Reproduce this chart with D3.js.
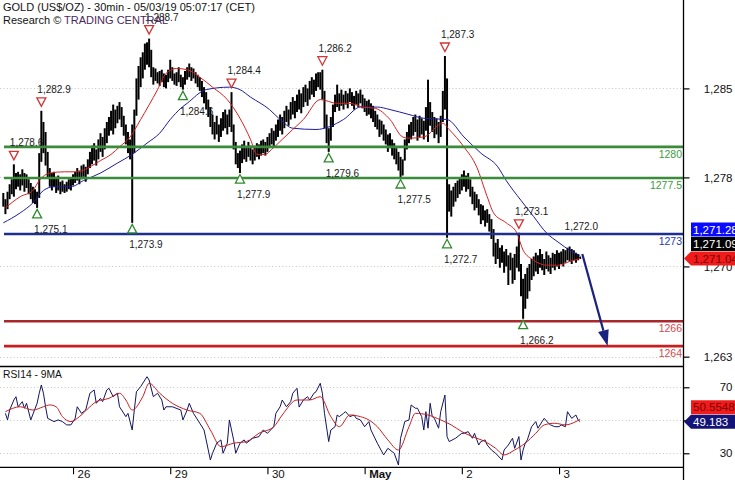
<!DOCTYPE html>
<html><head><meta charset="utf-8">
<script src="https://cdn.jsdelivr.net/npm/d3@7"></script>
<style>body{margin:0;background:#fff}svg{display:block;font-family:"Liberation Sans",Arial,sans-serif}</style>
</head><body><svg id="c" width="735" height="480"></svg>
<script>
// ---------- DATA ----------
const titleLine1 = "GOLD (US$/OZ) - 30min - 05/03/19 05:07:17 (CET)";
const titleLine2a = "Research © ";
const titleLine2b = "TRADING CENTRAL";
const rsiTitle = "RSI14 - 9MA";

// 30-minute bars: lows / highs (bar index 0..273)
const barLow = [
1275.2,1274.6,1275.0,1275.8,1276.2,1276.0,1276.6,1276.8,1276.5,1276.9,
1276.4,1276.7,1276.2,1275.8,1275.5,1275.4,1275.1,1275.9,1278.8,1279.5,
1278.5,1277.5,1276.8,1276.5,1276.8,1276.3,1276.5,1276.2,1276.4,1276.3,
1276.4,1276.6,1276.5,1276.9,1277.1,1277.3,1277.0,1277.4,1277.6,1277.2,
1277.8,1278.3,1278.6,1278.9,1278.5,1279.0,1279.6,1279.2,1279.8,1280.3,
1280.9,1281.3,1281.0,1281.5,1281.9,1282.2,1281.6,1280.9,1280.2,1279.5,
1279.0,1273.9,1279.5,1282.5,1283.8,1284.8,1285.5,1286.2,1286.6,1286.4,
1285.6,1285.0,1285.3,1285.1,1284.9,1285.2,1284.8,1284.7,1285.2,1285.5,
1285.3,1285.0,1284.9,1285.2,1284.8,1284.6,1285.0,1285.4,1285.6,1285.3,
1285.5,1285.1,1284.8,1284.5,1284.0,1283.5,1283.0,1282.4,1281.6,1281.0,
1280.6,1281.0,1280.4,1280.8,1281.3,1281.5,1281.0,1281.6,1281.2,1279.8,
1278.6,1278.3,1277.9,1278.7,1279.0,1278.8,1279.2,1278.9,1278.6,1278.9,
1279.2,1279.0,1279.3,1279.5,1279.3,1279.6,1279.9,1280.2,1280.0,1280.5,
1280.8,1281.3,1281.0,1281.5,1282.0,1281.7,1282.2,1282.6,1282.3,1282.8,
1283.0,1282.7,1283.2,1283.6,1283.3,1283.8,1284.2,1284.0,1284.5,1284.8,
1284.6,1283.8,1281.5,1280.3,1279.6,1280.5,1281.6,1282.8,1283.2,1282.9,
1283.3,1283.0,1283.4,1283.1,1283.6,1283.3,1283.0,1283.4,1283.2,1283.5,
1283.1,1282.8,1282.5,1282.6,1282.3,1282.0,1281.6,1281.4,1280.8,1281.0,
1280.5,1280.2,1279.6,1279.9,1279.3,1279.0,1278.6,1278.1,1277.5,1277.7,
1278.9,1279.8,1280.3,1280.6,1280.9,1281.2,1280.5,1280.8,1281.0,1280.6,
1281.3,1280.4,1281.7,1281.2,1280.7,1281.0,1280.3,1280.8,1282.0,1283.0,
1272.7,1274.8,1274.4,1275.2,1275.6,1275.9,1276.2,1276.5,1276.8,1276.4,
1276.6,1276.0,1275.4,1274.9,1275.1,1274.5,1273.8,1274.1,1273.6,1273.9,
1273.2,1272.6,1271.2,1270.6,1271.0,1270.3,1270.7,1269.9,1270.4,1268.9,
1270.1,1269.0,1269.3,1270.3,1270.0,1268.0,1266.2,1267.0,1267.8,1268.4,
1269.3,1269.6,1270.0,1269.8,1270.3,1270.1,1269.7,1270.2,1270.0,1269.8,
1270.3,1270.1,1270.4,1270.2,1270.6,1270.4,1270.7,1270.9,1270.8,1270.6,
1270.9,1270.7,1270.9,1271.0];
const barHigh = [
1276.3,1275.8,1276.4,1277.0,1277.4,1278.6,1277.9,1278.0,1277.8,1278.2,
1277.9,1277.8,1277.4,1277.1,1276.8,1276.6,1276.4,1279.5,1282.9,1282.0,
1281.2,1279.6,1278.3,1277.9,1278.0,1277.6,1277.7,1277.2,1277.3,1277.0,
1277.2,1277.4,1277.5,1277.8,1278.0,1278.3,1278.1,1278.5,1278.6,1278.4,
1279.0,1279.6,1280.1,1280.3,1279.8,1280.6,1281.1,1280.8,1281.5,1282.0,
1282.4,1282.9,1283.4,1283.0,1283.3,1283.6,1283.2,1282.5,1281.8,1281.2,
1280.6,1281.8,1283.0,1285.5,1286.5,1287.2,1287.6,1288.3,1288.4,1288.7,
1287.8,1286.4,1286.3,1286.0,1286.1,1286.2,1285.9,1285.8,1286.2,1287.0,
1286.4,1285.9,1286.0,1286.4,1285.8,1285.6,1286.1,1286.4,1286.7,1286.4,
1286.3,1286.0,1285.8,1285.6,1285.3,1284.8,1284.4,1283.8,1283.2,1282.6,
1282.0,1282.5,1281.8,1282.3,1282.8,1283.0,1282.6,1283.0,1284.4,1281.8,
1280.4,1279.5,1279.7,1280.2,1280.5,1280.0,1280.4,1280.1,1279.8,1280.1,
1280.3,1280.2,1280.5,1280.6,1280.4,1280.8,1281.1,1281.5,1281.3,1281.8,
1282.2,1282.6,1282.4,1282.9,1283.3,1283.0,1283.6,1284.0,1283.7,1284.2,
1284.6,1284.3,1284.8,1285.0,1284.7,1285.3,1285.6,1285.4,1285.9,1286.0,
1286.0,1286.2,1284.5,1282.6,1281.5,1282.4,1283.4,1284.2,1285.0,1284.3,
1284.6,1284.2,1284.5,1284.3,1284.7,1284.4,1284.1,1284.5,1284.3,1284.6,
1284.2,1283.9,1283.7,1283.8,1283.5,1283.3,1282.9,1282.6,1282.2,1282.1,
1281.8,1281.4,1281.0,1281.1,1280.6,1280.3,1279.9,1279.6,1279.2,1279.0,
1280.6,1281.2,1281.8,1282.0,1282.4,1282.6,1282.2,1282.5,1282.3,1282.1,
1283.2,1285.4,1283.6,1282.8,1282.4,1282.3,1282.0,1282.5,1284.5,1287.3,
1285.5,1277.0,1276.5,1276.8,1277.1,1277.3,1277.5,1277.8,1278.1,1277.7,
1277.9,1277.4,1276.8,1276.4,1276.2,1275.8,1275.4,1275.3,1274.9,1275.0,
1274.6,1274.2,1273.4,1272.3,1272.6,1271.9,1272.1,1271.6,1271.8,1271.3,
1271.5,1271.1,1271.4,1272.0,1273.1,1270.6,1269.4,1269.8,1270.3,1270.6,
1271.0,1271.2,1271.5,1271.3,1271.8,1271.4,1271.0,1271.6,1271.3,1271.1,
1271.5,1271.4,1271.7,1271.5,1271.6,1271.8,1271.7,1271.9,1272.0,1271.8,
1271.7,1271.5,1271.4,1271.2];

// moving averages (bar index, price)
const maRedIdx = [1,8,14,17,22,29,35,41,46,51,55,60,65,73,77,82,87,93,99,106,112,117,120,124,127,132,137,142,150,158,164,170,176,183,189,192,199,208,211,218,224,229,232,238,243,246,251,257,263,268,273];
const maRedVal = [1275.1,1276.0,1276.5,1277.3,1277.9,1278.0,1278.0,1278.4,1278.9,1279.4,1280.0,1280.8,1282.2,1284.6,1285.9,1286.3,1286.2,1285.6,1284.8,1283.8,1282.3,1280.6,1279.4,1279.4,1279.8,1280.6,1281.4,1282.2,1283.8,1283.5,1283.5,1283.2,1283.1,1282.2,1280.8,1280.7,1280.8,1281.9,1281.4,1280.0,1278.4,1276.0,1274.7,1273.9,1273.1,1271.7,1270.9,1270.5,1270.5,1270.8,1271.04];
const maBlueIdx = [0,8,14,19,24,32,38,46,54,61,68,74,79,84,87,96,107,112,117,126,131,137,148,161,169,177,183,192,199,210,218,226,234,238,245,251,257,263,268,273];
const maBlueVal = [1273.9,1274.7,1275.5,1276.5,1276.8,1276.8,1277.3,1277.9,1278.7,1279.4,1280.3,1281.1,1282.2,1283.1,1283.5,1284.6,1284.8,1284.6,1284.0,1283.0,1282.2,1281.5,1281.4,1282.2,1283.2,1283.2,1283.0,1282.6,1282.3,1282.2,1280.8,1279.5,1278.4,1277.3,1275.7,1274.4,1273.1,1272.3,1271.7,1271.28];
const lastClose = 1271.09;

// swing highs / lows
const swingHighIdx = [5,18,69,108,151,209,244];
const swingHighVal = [1278.6,1282.9,1288.7,1284.4,1286.2,1287.3,1273.1];
const plainHighIdx = [268];
const plainHighVal = [1272.0];
const swingLowIdx = [16,61,85,112,154,188,210,246];
const swingLowVal = [1275.1,1273.9,1284.6,1277.9,1279.6,1277.5,1272.7,1266.2];

// support / resistance levels
const levelVals = [1280,1277.5,1273,1266,1264];
const levelLabels = ["1280","1277.5","1273","1266","1264"];
const levelKinds = ["res","res","pivot","sup1","sup2"];

// projection arrow (bar index, price)
const projIdx = [274,286];
const projVal = [1271.4,1264.0];

// axes
const priceTicks = [1284.7,1277.55,1270.4,1263.15];
const rsiTicks = [70,50,30];
const rsiTickLabels = ["70","","30"];
const dayIdx = [33,79,125,171,217,263];
const dayLabels = ["26","29","30","May","2","3"];

// RSI(14) and its 9MA (bar index, value)
const rsiIdx = [1,2,3,5,6,7,9,10,11,13,16,17,18,19,20,21,24,26,28,30,32,34,35,37,39,41,43,44,46,47,49,50,52,54,55,58,59,61,62,63,65,68,69,71,73,75,76,77,80,84,85,87,88,90,93,95,96,98,99,101,103,104,106,107,109,110,112,114,115,118,121,123,125,128,129,131,132,134,136,137,139,140,142,144,145,147,148,150,151,152,154,155,157,158,159,161,162,164,166,167,169,171,173,174,177,180,182,185,187,188,190,192,193,195,196,198,199,200,201,202,203,204,206,207,209,210,211,214,217,218,220,222,223,225,226,228,229,231,233,236,237,239,241,242,244,245,246,247,248,250,252,253,255,256,258,259,261,263,264,266,267,269,271,272,273];
const rsiVal = [54.2,50.2,56.2,62.3,64.3,58.2,61.3,57.3,60.3,50.2,60.3,66.4,71.4,66.4,58.2,51.2,49.2,50.2,49.2,47.2,47.2,51.2,58.2,54.2,56.2,66.4,68.4,60.3,63.3,61.3,68.4,69.4,64.3,66.4,58.2,52.2,54.2,44.1,56.2,67.3,70.4,76.4,74.4,64.3,66.4,62.3,56.2,58.2,58.2,56.2,50.2,56.2,60.3,54.2,48.2,44.1,38.1,25.9,30.0,36.1,38.1,30.0,36.1,50.2,38.1,30.0,36.1,38.1,36.1,39.1,40.1,44.1,42.1,46.1,54.2,58.2,62.3,58.2,61.3,66.4,69.4,58.0,62.3,64.3,62.3,66.4,67.3,72.4,66.4,54.2,37.1,44.1,46.1,53.2,52.2,54.2,55.2,52.2,53.2,51.2,50.2,46.1,49.2,44.1,36.1,29.0,33.0,30.0,22.9,39.1,49.2,50.2,59.3,57.3,57.3,52.2,44.1,55.2,45.2,60.3,52.2,51.2,45.2,55.2,65.3,40.1,37.1,39.1,42.1,42.1,43.1,39.1,42.1,35.0,37.1,38.1,35.0,32.0,30.0,25.9,32.0,35.0,39.1,33.0,40.1,25.9,32.0,36.1,38.1,46.1,49.2,45.2,49.2,51.2,48.2,47.2,46.1,46.1,47.2,46.1,55.2,51.2,53.2,50.2,49.183];
const rsiMaIdx = [1,8,14,19,22,25,28,32,36,41,44,50,55,58,61,66,69,74,80,87,93,98,103,109,115,121,128,132,139,145,150,155,159,164,169,173,177,182,187,192,195,201,207,212,217,222,228,233,237,242,247,252,256,261,266,271,273];
const rsiMaVal = [55.2,58.2,56.2,58.2,59.3,58.2,52.2,49.2,52.2,58.2,61.3,63.3,66.4,62.3,56.2,64.3,72.4,66.4,60.3,56.2,54.2,44.1,34.0,36.1,37.1,42.1,46.1,53.2,62.3,62.3,64.3,52.2,46.1,53.2,52.2,50.2,46.1,38.1,32.0,46.1,54.2,53.2,50.2,47.2,43.1,40.1,37.1,33.0,29.0,32.0,36.1,42.1,47.2,48.2,47.2,49.2,50.5548];

// ---------- CHART ----------
const W = 735, H = 480, axisX = 683.5;
const mainTop = 0, mainBottom = 366.5, rsiBottom = 467.3;
const svg = d3.select("#c");

const x = d3.scaleLinear().domain([0, 321]).range([3.3, 681.6]);
const y = d3.scaleLinear().domain([1262.36, 1291.8]).range([mainBottom, mainTop]);
const yr = d3.scaleLinear().domain([21.5, 82.6]).range([rsiBottom, mainBottom]);

svg.append("defs").append("clipPath").attr("id","clipMain")
  .append("rect").attr("x",0).attr("y",0).attr("width",axisX).attr("height",mainBottom);
svg.select("defs").append("clipPath").attr("id","clipRsi")
  .append("rect").attr("x",0).attr("y",mainBottom).attr("width",axisX).attr("height",rsiBottom-mainBottom);

// dotted grid
const grid = svg.append("g").attr("stroke","#c4c4c4").attr("stroke-dasharray","1,2.4").attr("stroke-width",1);
priceTicks.forEach(v => grid.append("line").attr("x1",0).attr("x2",axisX).attr("y1",Math.round(y(v))+0.5).attr("y2",Math.round(y(v))+0.5));
rsiTicks.forEach(v => grid.append("line").attr("x1",0).attr("x2",axisX).attr("y1",Math.round(yr(v))+0.5).attr("y2",Math.round(yr(v))+0.5));

// main panel
const main = svg.append("g").attr("clip-path","url(#clipMain)");

// price bars
main.append("g").selectAll("line").data(barHigh).join("line")
  .attr("x1",(d,i)=>x(i)).attr("x2",(d,i)=>x(i))
  .attr("y1",d=>y(d)).attr("y2",(d,i)=>Math.max(y(barLow[i]), y(d)+1))
  .attr("stroke","#000").attr("stroke-width",2.0);

// moving averages
const maLine = d3.line().x(d=>x(d[0])).y(d=>y(d[1])).curve(d3.curveMonotoneX);
main.append("path").attr("d",maLine(d3.zip(maBlueIdx,maBlueVal))).attr("fill","none").attr("stroke","#1c1c9c").attr("stroke-width",1);
main.append("path").attr("d",maLine(d3.zip(maRedIdx,maRedVal))).attr("fill","none").attr("stroke","#d42020").attr("stroke-width",1);

// levels
const levelStyle = {res:{line:"#3a8c3a",text:"#3f9a3f"}, pivot:{line:"#1e2f8e",text:"#2a3aa6"}, sup1:{line:"#a8282c",text:"#d24a4a"}, sup2:{line:"#c81e1e",text:"#d24a4a"}};
levelVals.forEach((v,k)=>{
  const s = levelStyle[levelKinds[k]];
  main.append("line").attr("x1",4).attr("x2",axisX).attr("y1",y(v)).attr("y2",y(v))
    .attr("stroke",s.line).attr("stroke-width",2.6);
  svg.append("text").attr("x",682).attr("y",y(v)+11).attr("text-anchor","end")
    .attr("font-size",10.5).attr("fill",s.text).text(levelLabels[k]);
});

// swing markers
const fmt1 = d3.format(",.1f");
const ann = svg.append("g").attr("font-size",10).attr("fill","#1a1a1a");
swingHighIdx.forEach((idx,k)=>{
  const cx = x(idx), cy = y(swingHighVal[k]) - 9;
  const p = d3.path(); p.moveTo(cx-4.5,cy-4); p.lineTo(cx+4.5,cy-4); p.lineTo(cx,cy+4.5); p.closePath();
  ann.append("path").attr("d",p.toString()).attr("fill","#fff").attr("stroke","#d03434").attr("stroke-width",1.3);
  ann.append("text").attr("x",cx-4).attr("y",cy-9).text(fmt1(swingHighVal[k]));
});
plainHighIdx.forEach((idx,k)=>{
  ann.append("text").attr("x",x(idx)-5).attr("y",y(plainHighVal[k])-16).text(fmt1(plainHighVal[k]));
});
swingLowIdx.forEach((idx,k)=>{
  const cx = x(idx), cy = y(swingLowVal[k]) + 6;
  const p = d3.path(); p.moveTo(cx-4.5,cy+4); p.lineTo(cx+4.5,cy+4); p.lineTo(cx,cy-4.5); p.closePath();
  ann.append("path").attr("d",p.toString()).attr("fill","#fff").attr("stroke","#2f8a2f").attr("stroke-width",1.3);
  ann.append("text").attr("x",cx-3).attr("y",cy+19).text(fmt1(swingLowVal[k]));
});

// projection arrow
{
  const x1=x(projIdx[0]), y1=y(projVal[0]), x2=x(projIdx[1]), y2=y(projVal[1]);
  const ang = Math.atan2(y2-y1, x2-x1), L = 16, hw = 5.5;
  const bx = x2 - L*Math.cos(ang), by = y2 - L*Math.sin(ang);
  svg.append("line").attr("x1",x1).attr("y1",y1).attr("x2",bx).attr("y2",by).attr("stroke","#1a237e").attr("stroke-width",2.2);
  const p = d3.path();
  p.moveTo(x2,y2); p.lineTo(bx + hw*Math.sin(ang), by - hw*Math.cos(ang)); p.lineTo(bx - hw*Math.sin(ang), by + hw*Math.cos(ang)); p.closePath();
  svg.append("path").attr("d",p.toString()).attr("fill","#1a237e");
}

// RSI panel
const rsiG = svg.append("g").attr("clip-path","url(#clipRsi)");
const rLine = d3.line().x(d=>x(d[0])).y(d=>yr(d[1]));
rsiG.append("path").attr("d",rLine(d3.zip(rsiIdx,rsiVal))).attr("fill","none").attr("stroke","#14145e").attr("stroke-width",1);
rsiG.append("path").attr("d",rLine.curve(d3.curveMonotoneX)(d3.zip(rsiMaIdx,rsiMaVal))).attr("fill","none").attr("stroke","#c42020").attr("stroke-width",1);
svg.append("text").attr("x",3).attr("y",378).attr("font-size",10.3).attr("fill","#111").text(rsiTitle);

// panel frames
svg.append("line").attr("x1",0).attr("x2",axisX).attr("y1",mainBottom).attr("y2",mainBottom).attr("stroke","#000").attr("stroke-width",1.3);
svg.append("line").attr("x1",0).attr("x2",axisX).attr("y1",rsiBottom).attr("y2",rsiBottom).attr("stroke","#000").attr("stroke-width",1.3);
svg.append("line").attr("x1",axisX).attr("x2",axisX).attr("y1",0).attr("y2",H).attr("stroke","#000").attr("stroke-width",1.3);

// right axes
const fmt0 = d3.format(",.0f");
const pAxis = svg.append("g").attr("transform",`translate(${axisX},0)`)
  .call(d3.axisRight(y).tickValues(priceTicks).tickFormat(fmt0).tickSize(6).tickSizeOuter(0));
const rAxis = svg.append("g").attr("transform",`translate(${axisX},0)`)
  .call(d3.axisRight(yr).tickValues(rsiTicks).tickFormat((d,i)=>rsiTickLabels[i]).tickSize(6).tickSizeOuter(0));
[pAxis,rAxis].forEach(g=>{
  g.select(".domain").remove();
  g.selectAll(".tick line").attr("stroke","#000").attr("stroke-width",1.2);
  g.selectAll(".tick text").attr("x",49).attr("text-anchor","end").attr("font-size",11.5)
    .attr("font-family","'Liberation Sans',Arial,sans-serif").attr("fill","#111");
});

// x axis
const xAxis = svg.append("g").attr("transform",`translate(0,${rsiBottom})`)
  .call(d3.axisBottom(x).tickValues(dayIdx).tickFormat((d,i)=>dayLabels[i]).tickSize(7).tickSizeOuter(0));
xAxis.select(".domain").remove();
xAxis.selectAll(".tick line").attr("stroke","#000").attr("stroke-width",1.1);
xAxis.selectAll(".tick text").attr("x",4).attr("y",3).attr("text-anchor","start").attr("font-size",11.5)
  .attr("font-family","'Liberation Sans',Arial,sans-serif").attr("fill","#111")
  .attr("font-weight",(d,i)=>dayLabels[i]==="May"?"bold":"normal");

// value flags on the right
function flag(cy, txt, fill, color, arrow){
  const x0 = 691, h = 14, p = d3.path();
  if (arrow){ p.moveTo(axisX+0.5,cy); p.lineTo(x0,cy-h/2); } else { p.moveTo(x0,cy-h/2); }
  p.lineTo(W,cy-h/2); p.lineTo(W,cy+h/2); p.lineTo(x0,cy+h/2); p.closePath();
  svg.append("path").attr("d",p.toString()).attr("fill",fill);
  svg.append("text").attr("x",x0+2).attr("y",cy+4.3).attr("font-size",11.5).attr("fill",color).text(txt);
}
const fmt2 = d3.format(",.2f");
const lastRed = maRedVal[maRedVal.length-1], lastBlue = maBlueVal[maBlueVal.length-1];
const redCy = y(lastRed);
flag(redCy-29, fmt2(lastBlue), "#0a0aff", "#fff", false);
flag(redCy-14.5, fmt2(lastClose), "#000", "#fff", false);
flag(redCy, fmt2(lastRed), "#f01c1c", "#7a0000", true);
const rsiLast = rsiVal[rsiVal.length-1], rsiMaLast = rsiMaVal[rsiMaVal.length-1];
flag(yr(rsiLast), String(rsiLast), "#141478", "#fff", true);
flag(yr(rsiLast)-14.5, String(rsiMaLast), "#f01c1c", "#7a0000", false);

// title
svg.append("text").attr("x",3).attr("y",11).attr("font-size",11).attr("fill","#111").text(titleLine1);
const t2 = svg.append("text").attr("x",3).attr("y",24).attr("font-size",11).attr("fill","#111");
t2.append("tspan").text(titleLine2a);
t2.append("tspan").attr("fill","#4a2a5c").text(titleLine2b);
</script>
</body></html>
